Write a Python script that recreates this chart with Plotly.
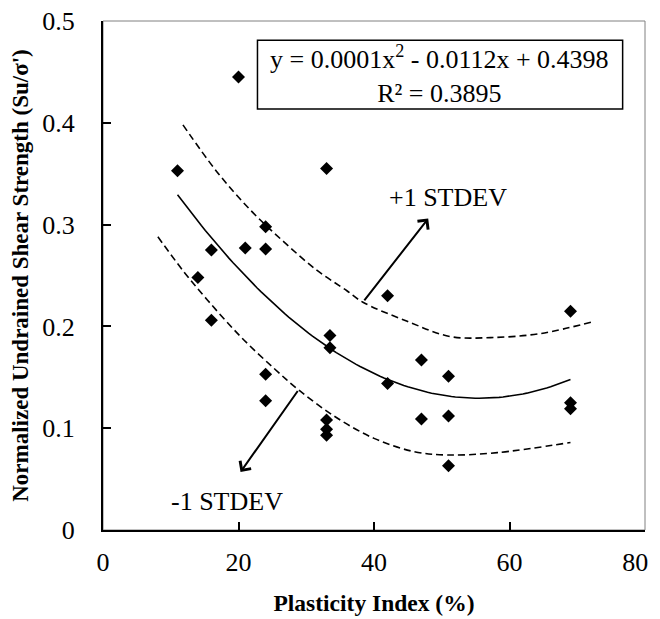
import numpy as np
import plotly.graph_objects as go

# Scatter data (Plasticity Index %, Su/sigma')
pi_vals = [11, 14, 16, 16, 20, 21, 24, 24, 24, 24, 33, 33, 33, 33, 33.5, 33.5,
           42, 42, 47, 47, 51, 51, 51, 69, 69, 69]
su_vals = [0.353, 0.248, 0.275, 0.206, 0.445, 0.277, 0.298, 0.276, 0.153, 0.127,
           0.355, 0.108, 0.099, 0.093, 0.191, 0.179, 0.230, 0.144, 0.167, 0.109,
           0.151, 0.112, 0.063, 0.215, 0.125, 0.119]

# +1 / -1 STDEV bands
upper_x = [11.8, 16.8, 21.8, 26.7, 31.6, 36.0, 38.3, 44.9, 51.3, 57.2, 64.6, 72.5]
upper_y = [0.398, 0.352, 0.314, 0.283, 0.255, 0.235, 0.224, 0.205, 0.190, 0.189, 0.193, 0.205]
lower_x = [8.1, 11.9, 15.4, 20.3, 25.2, 28.9, 34.1, 40.0, 45.9, 50.8, 58.2, 69.0]
lower_y = [0.288, 0.254, 0.226, 0.190, 0.159, 0.1375, 0.112, 0.090, 0.077, 0.0737, 0.076, 0.086]

x_ticks = [0, 20, 40, 60, 80]
x_tick_text = ["0", "20", "40", "60", "80\u00a0\u00a0\u00a0"]
y_ticks = [0, 0.1, 0.2, 0.3, 0.4, 0.5]
y_tick_text = ["0", "0.1", "0.2", "0.3", "0.4", "0.5"]

eq_text = "y = 0.0001x<sup>2</sup> - 0.0112x + 0.4398<br>R² = 0.3895"

# polynomial trendline fitted from the data
coef = np.polyfit(pi_vals, su_vals, 2)
tx = np.linspace(min(pi_vals), max(pi_vals), 100)
ty = np.polyval(coef, tx)

FONT = "Liberation Serif, Times New Roman, serif"

fig = go.Figure()
fig.add_trace(go.Scatter(x=upper_x, y=upper_y, mode="lines", line_shape="spline",
                         line=dict(color="black", width=1.6, dash="7px,4px"), hoverinfo="skip"))
fig.add_trace(go.Scatter(x=lower_x, y=lower_y, mode="lines", line_shape="spline",
                         line=dict(color="black", width=1.6, dash="7px,4px"), hoverinfo="skip"))
fig.add_trace(go.Scatter(x=tx, y=ty, mode="lines",
                         line=dict(color="black", width=1.6), hoverinfo="skip"))
fig.add_trace(go.Scatter(x=pi_vals, y=su_vals, mode="markers",
                         marker=dict(symbol="diamond", size=10, color="black")))

# plot-area border (top/right grey)
fig.add_shape(type="rect", xref="paper", yref="paper", x0=0, y0=0, x1=1, y1=1,
              line=dict(color="#808080", width=1), layer="below")

# equation box
fig.add_shape(type="rect", xref="x", yref="y", x0=22.8, y0=0.4135, x1=76.7, y1=0.481,
              line=dict(color="black", width=1.5), fillcolor="white")
fig.add_annotation(x=49.6, y=0.4472, xref="x", yref="y", text=eq_text, showarrow=False,
                   font=dict(family=FONT, size=26, color="black"), align="center")

# arrows
fig.add_annotation(x=48.0, y=0.306, ax=38.4, ay=0.224, xref="x", yref="y",
                   axref="x", ayref="y", text="", showarrow=True, arrowhead=4,
                   arrowsize=1.3, arrowwidth=2, arrowcolor="black")
fig.add_annotation(x=20.3, y=0.057, ax=28.9, ay=0.138, xref="x", yref="y",
                   axref="x", ayref="y", text="", showarrow=True, arrowhead=4,
                   arrowsize=1.3, arrowwidth=2, arrowcolor="black")
fig.add_annotation(x=50.9, y=0.327, xref="x", yref="y", text="+1 STDEV", showarrow=False,
                   font=dict(family=FONT, size=26, color="black"))
fig.add_annotation(x=18.3, y=0.028, xref="x", yref="y", text="-1 STDEV", showarrow=False,
                   font=dict(family=FONT, size=26, color="black"))

# the page adds an 8px body margin, so the figure is 8px smaller to fit the window
fig.update_layout(
    width=652, height=611,
    margin=dict(l=95, r=15, t=13, b=89),
    paper_bgcolor="white", plot_bgcolor="white",
    showlegend=False,
    font=dict(family=FONT, color="black"),
)
fig.update_xaxes(range=[0, 80], tickvals=x_ticks, ticktext=x_tick_text, ticks="inside",
                 ticklen=8, tickwidth=1.5,
                 tickcolor="black", showline=True, linecolor="black", linewidth=2,
                 showgrid=False, zeroline=False, tickfont=dict(family=FONT, size=26),
                 automargin=False, ticklabelstandoff=8, ticklabeloverflow="allow",
                 title=dict(text="<b>Plasticity Index (%)</b>", font=dict(family=FONT, size=23.5),
                            standoff=18))
fig.update_yaxes(range=[0, 0.5], tickvals=y_ticks, ticktext=y_tick_text, ticks="inside",
                 ticklen=8, tickwidth=1.5, tickcolor="black", showline=True, linecolor="black",
                 linewidth=2, showgrid=False, zeroline=False, tickfont=dict(family=FONT, size=26),
                 automargin=False, ticklabelstandoff=21, ticklabeloverflow="allow",
                 title=dict(text="<b>Normalized Undrained Shear Strength (Su/σ')</b>",
                            font=dict(family=FONT, size=23), standoff=10))

fig.write_html("out.html")
